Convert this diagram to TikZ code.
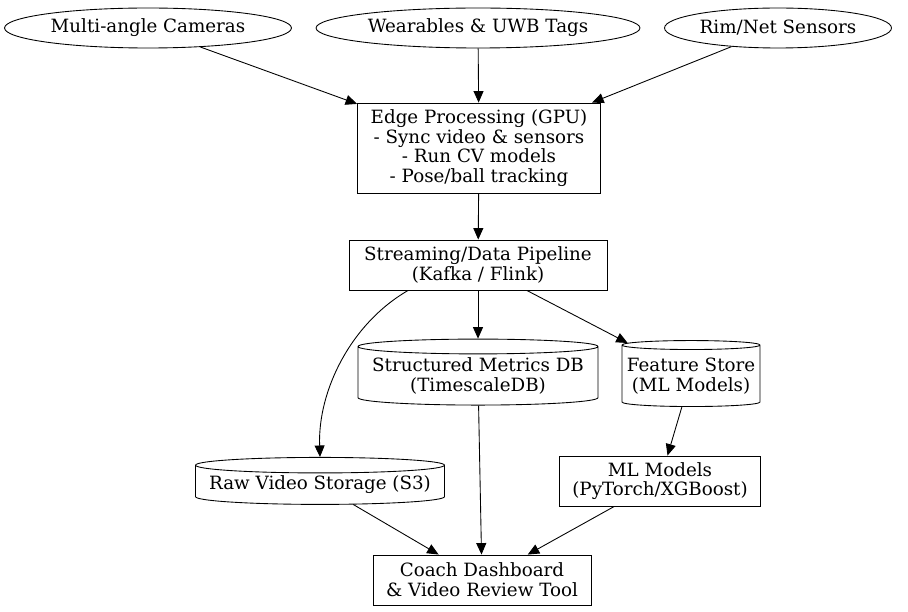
\documentclass[tikz,border=0pt]{standalone}
\usepackage{fontspec}
\setmainfont{DejaVu Serif}
\usepackage{tikz}
\usetikzlibrary{arrows.meta}
\usetikzlibrary{shapes.geometric}
\usetikzlibrary{positioning}
\tikzset{src/.style = {draw, ellipse, inner sep = 0, minimum height = 0.8cm, align = center},
  proc/.style = {draw, rectangle, inner sep = 0, align = center},
  store/.style = {draw, cylinder, shape border rotate = 90, aspect = 0.07, inner sep = 0, align = center},
  flow/.style = {-{Triangle[length = 2.3mm, width = 2mm]}}}

\begin{document}
\begin{tikzpicture}[x = 0.02cm, y = -0.02cm, font = \fontsize{10.4}{11.2}\selectfont, line width = 0.5pt]
      \useasboundingbox (0, 0) rectangle (908, 611);

      \node [src, minimum width = 5.74cm] at (148, 28) (cameras) {Multi-angle Cameras};
      \node [src, minimum width = 6.48cm] at (478, 28) (wearables) {Wearables \& UWB Tags};
      \node [src, minimum width = 4.54cm] at (778, 28) (rim) {Rim/Net Sensors};

      \node [proc, minimum width = 4.86cm, minimum height = 1.8cm] at (479, 148) (edge)
        {Edge Processing (GPU)\\- Sync video \& sensors\\- Run CV models\\- Pose/ball tracking};
      \node [proc, minimum width = 5.16cm, minimum height = 1cm] at (478, 265) (stream)
        {Streaming/Data Pipeline\\(Kafka / Flink)};

      \node [store, minimum width = 4.8cm, minimum height = 1.32cm] at (478, 376) (metrics)
        {Structured Metrics DB\\(TimescaleDB)};
      \node [store, minimum width = 2.76cm, minimum height = 1.32cm] at (691, 376) (features)
        {Feature Store\\(ML Models)};
      \node [store, minimum width = 4.98cm, minimum height = 0.94cm] at (320, 485) (raw)
        {Raw Video Storage (S3)};
      \node [proc, minimum width = 4.02cm, minimum height = 1cm] at (660, 481) (models)
        {ML Models\\(PyTorch/XGBoost)};

      \node [proc, minimum width = 4.36cm, minimum height = 1cm] at (482, 580) (coach)
        {Coach Dashboard\\\& Video Review Tool};

      \draw [flow] (cameras) -- (edge);
      \draw [flow] (wearables) -- (edge);
      \draw [flow] (rim) -- (edge);
      \draw [flow] (edge) -- (stream);

      \draw [flow] (stream.200) to [out = -150, in = 92, looseness = 0.9] (raw.north);
      \draw [flow] (stream) -- (metrics);
      \draw [flow] (stream) -- (features);
      \draw [flow] (features) -- (models);

      \draw [flow] (raw) -- (coach);
      \draw [flow] (metrics) -- (coach);
      \draw [flow] (models) -- (coach);

      % storage nodes are drawn as cylinders, the rest as boxes
    \end{tikzpicture}
\end{document}
